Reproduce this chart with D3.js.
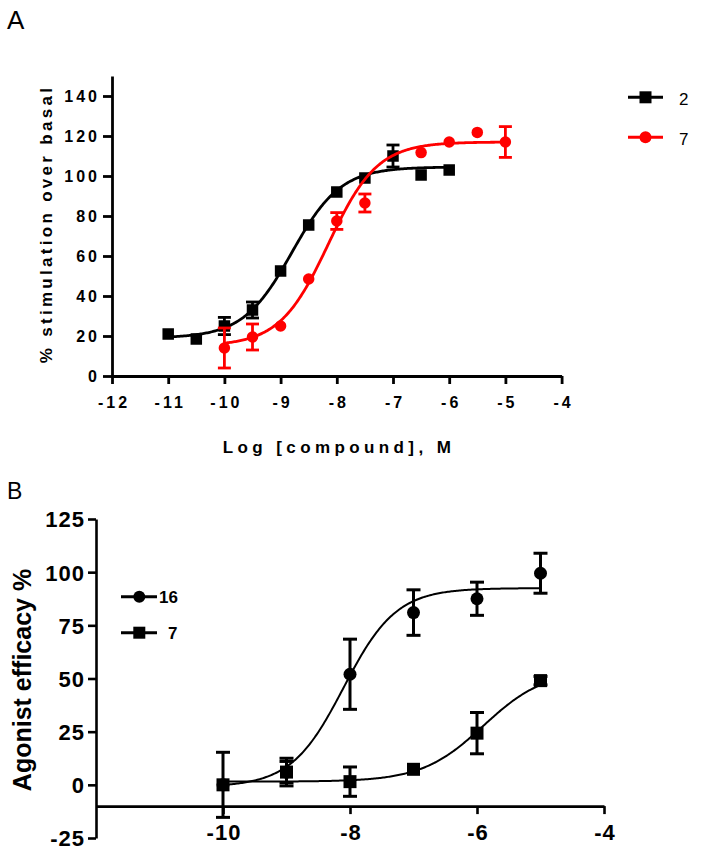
<!DOCTYPE html>
<html>
<head>
<meta charset="utf-8">
<script src="https://cdn.jsdelivr.net/npm/d3@7"></script>
<style>
  body { margin: 0; background: #fff; }
  svg { display: block; font-family: 'Liberation Sans', Arial, sans-serif; }
</style>
</head>
<body>
<svg id="chart" width="703" height="856"></svg>
<script>
// ---- Panel A data (log dose, response, SEM) ----
const aDose2 = [-11, -10.5, -10, -9.5, -9, -8.5, -8, -7.5, -7, -6.5, -6]
const aResp2 = [21, 18.5, 25, 33, 52.5, 75.5, 92, 99, 110, 100.5, 103]
const aErr2 = [0, 0, 4.3, 4, 0, 0, 0, 0, 5.5, 0, 0]
const aDose7 = [-10, -9.5, -9, -8.5, -8, -7.5, -6.5, -6, -5.5, -5]
const aResp7 = [14, 19.5, 25, 48.5, 77.5, 86.5, 111.7, 117, 121.8, 117]
const aErr7 = [10, 6.5, 0, 0, 4.2, 4.5, 0, 0, 0, 7.7]
// fitted curves: [bottom, top, logEC50, hill, xStart, xEnd]
const aFit2 = [19, 104.5, -8.8, 1, -11, -6]
const aFit7 = [15, 117, -8.15, 1, -10, -5]
const aXTicks = [-12, -11, -10, -9, -8, -7, -6, -5, -4]
const aYTicks = [0, 20, 40, 60, 80, 100, 120, 140]
const aLegend = ['2', '7']

// ---- Panel B data ----
const bDose16 = [-10, -9, -8, -7, -6, -5]
const bResp16 = [0, 6, 52, 81, 87.5, 99.5]
const bErr16 = [0, 5, 16.5, 10.7, 7.8, 9.4]
const bDose7 = [-10, -9, -8, -7, -6, -5]
const bResp7 = [0, 6, 1.5, 7.3, 24.3, 49]
const bErr7 = [15.3, 6.5, 6.9, 0, 9.7, 2]
const bFit16 = [-1, 92.5, -8.1, 1.05, -10, -5]
const bFit7 = [1.5, 54, -5.9, 0.9, -10, -5]
const bXTicks = [-10, -8, -6, -4]
const bYTicks = [-25, 0, 25, 50, 75, 100, 125]
const bLegend = ['16', '7']

const svg = d3.select('#chart')

/**
 * Builds the points of a four-parameter logistic fit.
 *
 * @param {number[]} fit [bottom, top, logEC50, hill, xStart, xEnd]
 * @returns {number[][]} The [x, y] points of the curve
 */
function fitPoints (fit) {
  const [bottom, top, ec, hill, x0, x1] = fit
  return d3.range(x0, x1 + 0.001, 0.02)
    .map(x => [x, bottom + (top - bottom) / (1 + Math.pow(10, (ec - x) * hill))])
}

/**
 * Draws one data series: curve, error bars and markers.
 */
function drawSeries (g, x, y, opts) {
  const line = d3.line().x(d => x(d[0])).y(d => y(d[1]))
  g.append('path')
    .attr('d', line(fitPoints(opts.fit)))
    .attr('fill', 'none')
    .attr('stroke', opts.color)
    .attr('stroke-width', opts.curveWidth)

  const pts = opts.dose.map((d, i) => ({ x: d, v: opts.resp[i], e: opts.err[i] }))
  const bars = g.append('g')
    .attr('stroke', opts.color)
    .attr('stroke-width', opts.barWidth)
  pts.filter(p => p.e > 0).forEach(p => {
    bars.append('line')
      .attr('x1', x(p.x)).attr('x2', x(p.x))
      .attr('y1', y(p.v - p.e)).attr('y2', y(p.v + p.e))
    ;[p.v - p.e, p.v + p.e].forEach(v => {
      bars.append('line')
        .attr('x1', x(p.x) - opts.cap / 2).attr('x2', x(p.x) + opts.cap / 2)
        .attr('y1', y(v)).attr('y2', y(v))
    })
  })

  const marks = g.append('g').attr('fill', opts.color)
  pts.forEach(p => drawMarker(marks, opts.shape, x(p.x), y(p.v), opts.size))
}

function drawMarker (g, shape, cx, cy, size) {
  if (shape === 'square') {
    g.append('rect')
      .attr('x', cx - size / 2).attr('y', cy - size / 2)
      .attr('width', size).attr('height', size)
  } else {
    g.append('circle').attr('cx', cx).attr('cy', cy).attr('r', size / 2)
  }
}

/**
 * Panel A
 */
function panelA () {
  const x = d3.scaleLinear().domain([-12, -4]).range([112, 561.6])
  const y = d3.scaleLinear().domain([0, 150]).range([376, 76])
  const g = svg.append('g')

  g.append('text').attr('x', 7).attr('y', 29)
    .attr('font-size', 26).text('A')

  const xAxis = g.append('g')
    .attr('transform', `translate(0,${y(0)})`)
    .call(d3.axisBottom(x).tickValues(aXTicks).tickSize(8).tickSizeOuter(0).tickFormat(d3.format('d')))
  const yAxis = g.append('g')
    .attr('transform', `translate(${x(-12)},0)`)
    .call(d3.axisLeft(y).tickValues(aYTicks).tickSize(9).tickSizeOuter(0))
  ;[xAxis, yAxis].forEach(a => {
    a.select('.domain').attr('stroke-width', 2.8)
    a.selectAll('.tick line').attr('stroke-width', 2.8)
    a.selectAll('text')
      .attr('font-family', "'Liberation Sans', Arial, sans-serif")
      .attr('font-size', 16).attr('font-weight', 'bold')
      .attr('letter-spacing', 3).attr('fill', '#000')
  })
  xAxis.selectAll('text').attr('y', 32).attr('dy', null).attr('dx', 1.5)
    .text(d => d3.format('d')(d).replace('−', '-'))
  yAxis.selectAll('text').attr('x', -12).attr('dy', '0.36em')

  g.append('text')
    .attr('x', 339).attr('y', 453)
    .attr('text-anchor', 'middle')
    .attr('font-size', 17).attr('font-weight', 'bold').attr('letter-spacing', 4.4)
    .text('Log [compound], M')
  g.append('text')
    .attr('transform', 'translate(52,224) rotate(-90)')
    .attr('text-anchor', 'middle')
    .attr('font-size', 17).attr('font-weight', 'bold').attr('letter-spacing', 3.3)
    .text('% stimulation over basal')

  const plot = g.append('g')
  drawSeries(plot, x, y, { dose: aDose2, resp: aResp2, err: aErr2, fit: aFit2, color: '#000', shape: 'square', size: 11.5, cap: 13, barWidth: 2.8, curveWidth: 2.8 })
  drawSeries(plot, x, y, { dose: aDose7, resp: aResp7, err: aErr7, fit: aFit7, color: '#ff0000', shape: 'circle', size: 11.5, cap: 13, barWidth: 2.8, curveWidth: 2.8 })

  const colors = ['#000', '#ff0000']
  const shapes = ['square', 'circle']
  aLegend.forEach((name, i) => {
    const ly = 97.3 + i * 40
    g.append('line').attr('x1', 628).attr('x2', 663).attr('y1', ly).attr('y2', ly)
      .attr('stroke', colors[i]).attr('stroke-width', 3)
    drawMarker(g.append('g').attr('fill', colors[i]), shapes[i], 645.5, ly, 12)
    g.append('text').attr('x', 679).attr('y', ly + 7.5)
      .attr('font-size', 17).text(name)
  })
}

/**
 * Panel B
 */
function panelB () {
  const x = d3.scaleLinear().domain([-12, -4]).range([96, 604])
  const y = d3.scaleLinear().domain([-25, 125]).range([838, 519])
  const g = svg.append('g')

  g.append('text').attr('x', 7).attr('y', 499)
    .attr('font-size', 23).text('B')

  const xAxis = g.append('g')
    .attr('transform', `translate(0,${y(-10)})`)
    .call(d3.axisBottom(x).tickValues(bXTicks).tickSize(8).tickSizeOuter(0))
  const yAxis = g.append('g')
    .attr('transform', `translate(${x(-12)},0)`)
    .call(d3.axisLeft(y).tickValues(bYTicks).tickSize(8).tickSizeOuter(0))
  ;[xAxis, yAxis].forEach(a => {
    a.select('.domain').attr('stroke-width', 2.6)
    a.selectAll('.tick line').attr('stroke-width', 2.6)
    a.selectAll('text')
      .attr('font-family', "'Liberation Sans', Arial, sans-serif")
      .attr('font-size', 22).attr('font-weight', 'bold')
      .attr('letter-spacing', 1).attr('fill', '#000')
  })
  xAxis.selectAll('text').attr('y', 34).attr('dy', null).attr('dx', 0.5)
    .text(d => String(d))
  yAxis.selectAll('text').attr('x', -11).attr('dy', '0.36em')
    .text(d => String(d))

  g.append('text')
    .attr('transform', 'translate(31,680) rotate(-90)')
    .attr('text-anchor', 'middle')
    .attr('font-size', 25).attr('font-weight', 'bold')
    .text('Agonist efficacy %')

  const plot = g.append('g')
  drawSeries(plot, x, y, { dose: bDose16, resp: bResp16, err: bErr16, fit: bFit16, color: '#000', shape: 'circle', size: 13, cap: 14, barWidth: 3, curveWidth: 2 })
  drawSeries(plot, x, y, { dose: bDose7, resp: bResp7, err: bErr7, fit: bFit7, color: '#000', shape: 'square', size: 13, cap: 14, barWidth: 3, curveWidth: 2 })

  const shapes = ['circle', 'square']
  const textX = [159, 168]
  bLegend.forEach((name, i) => {
    const ly = 596.7 + i * 36
    g.append('line').attr('x1', 121).attr('x2', 157).attr('y1', ly).attr('y2', ly)
      .attr('stroke', '#000').attr('stroke-width', 3)
    drawMarker(g.append('g').attr('fill', '#000'), shapes[i], 139.3, ly, 12)
    g.append('text').attr('x', textX[i]).attr('y', ly + 6)
      .attr('font-size', 17).attr('font-weight', 'bold').text(name)
  })
}

panelA()
panelB()
</script>
</body>
</html>
